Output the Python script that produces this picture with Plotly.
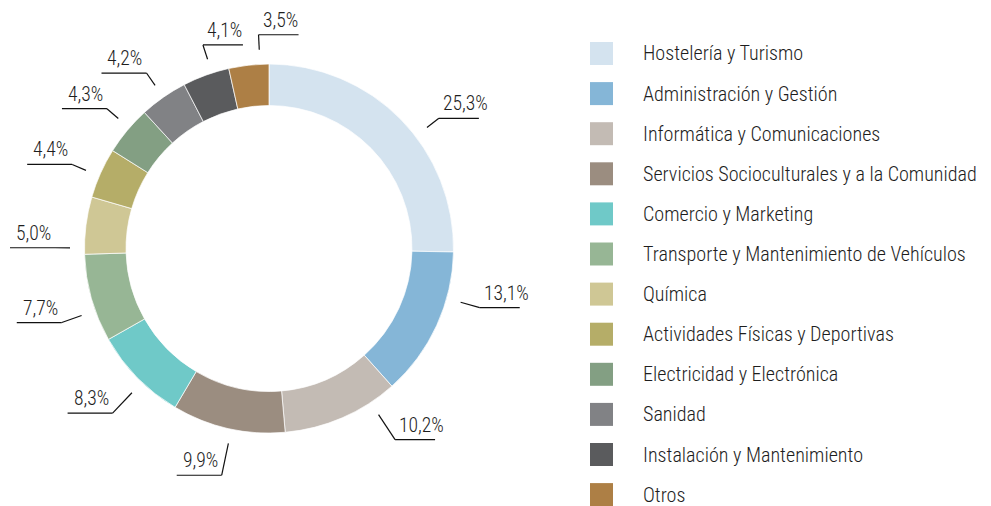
import math
import plotly.graph_objects as go

# ---------------- data ----------------
categories = [
    "Hostelería y Turismo",
    "Administración y Gestión",
    "Informática y Comunicaciones",
    "Servicios Socioculturales y a la Comunidad",
    "Comercio y Marketing",
    "Transporte y Mantenimiento de Vehículos",
    "Química",
    "Actividades Físicas y Deportivas",
    "Electricidad y Electrónica",
    "Sanidad",
    "Instalación y Mantenimiento",
    "Otros",
]
values = [25.3, 13.1, 10.2, 9.9, 8.3, 7.7, 5.0, 4.4, 4.3, 4.2, 4.1, 3.5]
colors = [
    "#d4e3ef", "#85b6d7", "#c3bbb4", "#9b8d80", "#6fc9c8", "#97b695",
    "#cfc795", "#b5ad68", "#839f83", "#818285", "#5a5b5d", "#ad7f45",
]
value_labels = [f"{v:.1f}".replace(".", ",") + "%" for v in values]

# ---------------- layout constants (pixels) ----------------
W, H = 991, 506
CX, CY, R = 269, 248.5, 184.5
HOLE = 0.775
FONT = "Roboto Condensed, Liberation Sans Narrow, Arial Narrow, sans-serif"
TEXT_COLOR = "#1e1e1e"
# small angular nudges (deg) applied to label leaders for readability
label_nudge = [7, -9, -10, -1, -2, -4, -7, -1, 1, 0, 2, 3.5]


def px(x):
    return x / W


def py(y):
    return 1 - y / H


fig = go.Figure()
fig.add_trace(go.Pie(
    labels=categories,
    values=values,
    hole=HOLE,
    sort=False,
    direction="clockwise",
    rotation=0,
    marker=dict(colors=colors, line=dict(color="white", width=0.7)),
    textinfo="none",
    hoverinfo="label+percent",
    showlegend=False,
    domain=dict(x=[px(CX - R), px(CX + R)], y=[py(CY + R), py(CY - R)]),
))

shapes = []
annotations = []
total = sum(values)
cum = 0.0
for v, lab, nudge in zip(values, value_labels, label_nudge):
    mid = (cum + v / 2) / total * 360 + nudge
    cum += v
    a = math.radians(mid)
    r1 = 199
    r2 = 214 + 18 * max(0.0, -math.cos(a))
    x1, y1 = CX + r1 * math.sin(a), CY - r1 * math.cos(a)
    x2, y2 = CX + r2 * math.sin(a), CY - r2 * math.cos(a)
    right = (0 < mid < 180) or mid > 335
    L = 40 if right else 45
    x3 = x2 + L if right else x2 - L
    line = dict(color="#111111", width=1.2)
    shapes.append(dict(type="line", xref="paper", yref="paper",
                       x0=px(x1), y0=py(y1), x1=px(x2), y1=py(y2), line=line))
    shapes.append(dict(type="line", xref="paper", yref="paper",
                       x0=px(x2), y0=py(y2), x1=px(x3), y1=py(y2), line=line))
    annotations.append(dict(
        xref="paper", yref="paper",
        x=px(x2 + 2) if right else px(x2 - 2),
        y=py(y2 - 14.5),
        xanchor="left" if right else "right",
        yanchor="middle",
        text=lab, showarrow=False,
        font=dict(family=FONT, size=19.6, color=TEXT_COLOR, weight=300),
    ))

# manual legend
LEG_X, LEG_Y0, LEG_DY, SQ = 590, 53.5, 40.1, 23
for i, (cat, col) in enumerate(zip(categories, colors)):
    yc = LEG_Y0 + i * LEG_DY
    shapes.append(dict(type="rect", xref="paper", yref="paper",
                       x0=px(LEG_X), x1=px(LEG_X + SQ),
                       y0=py(yc + SQ / 2), y1=py(yc - SQ / 2),
                       fillcolor=col, line=dict(width=0)))
    annotations.append(dict(
        xref="paper", yref="paper", x=px(641), y=py(yc),
        xanchor="left", yanchor="middle", text=cat, showarrow=False,
        font=dict(family=FONT, size=20.1, color=TEXT_COLOR, weight=300),
    ))

fig.update_layout(
    width=W, height=H,
    margin=dict(l=0, r=0, t=0, b=0),
    paper_bgcolor="white",
    plot_bgcolor="white",
    shapes=shapes,
    annotations=annotations,
    font=dict(family=FONT),
)

fig.write_html("out.html", config={"displayModeBar": False},
               post_script="document.body.style.margin='0';")
